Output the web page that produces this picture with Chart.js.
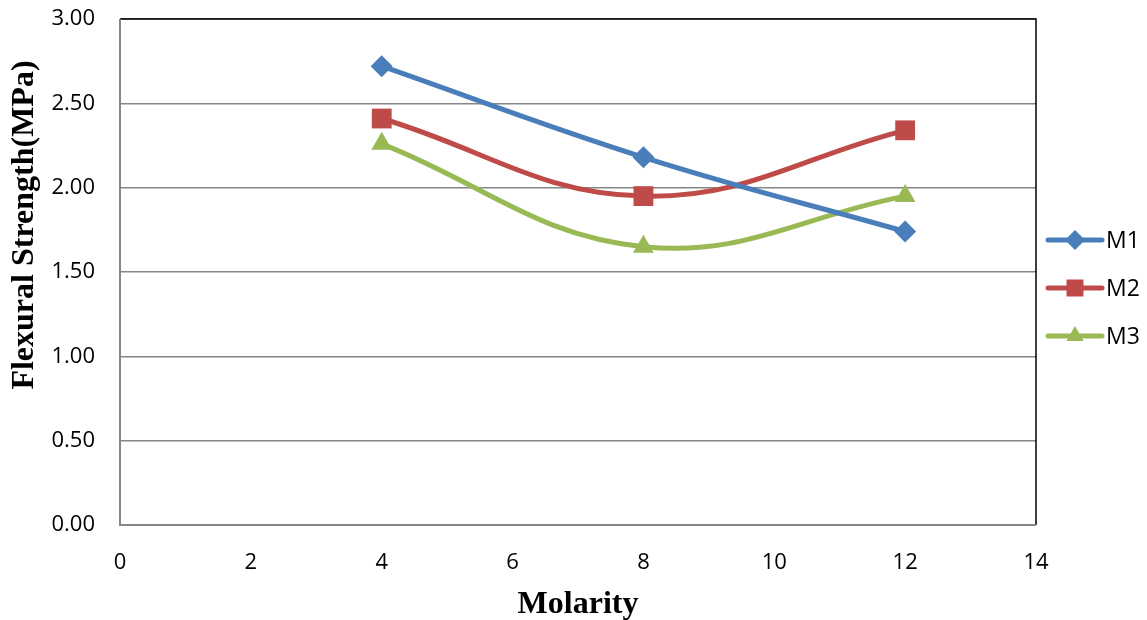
<!DOCTYPE html>
<html>
<head>
<meta charset="utf-8">
<script src="https://cdn.jsdelivr.net/npm/chart.js@4/dist/chart.umd.min.js"></script>
<style>
html,body{margin:0;padding:0;background:#fff;}
#wrap{width:1147px;height:620px;position:relative;}
</style>
</head>
<body>
<div id="wrap"><canvas id="c" width="1147" height="620"></canvas></div>
<script>
const molarity = [4, 8, 12];
const m1 = [2.72, 2.18, 1.74];
const m2 = [2.41, 1.95, 2.34];
const m3 = [2.26, 1.65, 1.95];
const seriesNames = ['M1', 'M2', 'M3'];
const xTicks = [0, 2, 4, 6, 8, 10, 12, 14];
const yTicks = [0, 0.5, 1, 1.5, 2, 2.5, 3];

const colors = ['#4A7EBB', '#BE4B48', '#98B954'];
const styles = ['rectRot', 'rect', 'triangle'];
const radii = [11, 14, 12];
const legendRadii = [10, 12, 10];
const allSeries = [m1, m2, m3];

const datasets = allSeries.map((vals, i) => ({
  label: seriesNames[i],
  data: molarity.map((x, j) => ({x: x, y: vals[j]})),
  borderColor: colors[i],
  backgroundColor: colors[i],
  borderWidth: 5,
  pointStyle: styles[i],
  pointRadius: radii[i],
  pointHoverRadius: radii[i],
  pointBorderWidth: 0,
  showLine: true,
  tension: 0.4,
  cubicInterpolationMode: 'default'
}));

const customPlugin = {
  id: 'custom',
  beforeDatasetsDraw(chart) {
    const ctx = chart.ctx, a = chart.chartArea;
    ctx.save();
    ctx.strokeStyle = '#000';
    ctx.lineWidth = 1.5;
    ctx.beginPath();
    ctx.moveTo(a.left, a.top);
    ctx.lineTo(a.right, a.top);
    ctx.lineTo(a.right, a.bottom);
    ctx.stroke();
    ctx.strokeStyle = '#868686';
    ctx.lineWidth = 2;
    ctx.beginPath();
    ctx.moveTo(a.left, a.top);
    ctx.lineTo(a.left, a.bottom);
    ctx.lineTo(a.right, a.bottom);
    ctx.stroke();
    ctx.restore();
  },
  afterDraw(chart) {
    const ctx = chart.ctx;
    ctx.save();
    ctx.translate(25, 225);
    ctx.rotate(-Math.PI / 2);
    ctx.fillStyle = '#000';
    ctx.font = 'bold 32px "Liberation Serif"';
    ctx.textAlign = 'center';
    ctx.textBaseline = 'middle';
    ctx.fillText('Flexural Strength(MPa)', 0, 0);
    ctx.restore();
    const lx = 1048, ly0 = 240, dy = 48;
    chart.data.datasets.forEach((ds, i) => {
      const y = ly0 + i * dy;
      ctx.save();
      ctx.strokeStyle = ds.borderColor;
      ctx.lineWidth = 5;
      ctx.lineCap = 'round';
      ctx.beginPath();
      ctx.moveTo(lx, y);
      ctx.lineTo(lx + 54, y);
      ctx.stroke();
      ctx.fillStyle = ds.backgroundColor;
      ctx.strokeStyle = ds.backgroundColor;
      ctx.lineWidth = 0.01;
      Chart.helpers.drawPoint(ctx, {pointStyle: ds.pointStyle, radius: legendRadii[i], borderWidth: 0}, lx + 27, y);
      ctx.fillStyle = '#000';
      ctx.font = '23px "Open Sans"';
      ctx.textAlign = 'left';
      ctx.textBaseline = 'middle';
      ctx.fillText(ds.label, lx + 58, y + 1);
      ctx.restore();
    });
  }
};

new Chart(document.getElementById('c'), {
  type: 'scatter',
  data: {datasets: datasets},
  options: {
    responsive: false,
    animation: false,
    layout: {padding: {left: 0, top: 19, right: 111, bottom: 0}},
    plugins: {legend: {display: false}, tooltip: {enabled: false}},
    scales: {
      x: {
        type: 'linear',
        min: 0, max: 14,
        afterBuildTicks: s => { s.ticks = xTicks.map(v => ({value: v})); },
        afterFit: s => { s.height = 95; s.paddingLeft = 0; s.paddingRight = 0; },
        grid: {display: false, drawTicks: false},
        border: {display: false},
        ticks: {color: '#000', font: {family: 'Open Sans', size: 22}, padding: 25, maxRotation: 0},
        title: {display: true, text: 'Molarity', color: '#000', font: {family: 'Liberation Serif', size: 32, weight: 'bold'}, padding: {top: 2, bottom: -4}}
      },
      y: {
        type: 'linear',
        min: 0, max: 3,
        afterBuildTicks: s => { s.ticks = yTicks.map(v => ({value: v})); },
        afterFit: s => { s.width = 120; s.paddingTop = 0; s.paddingBottom = 0; },
        grid: {color: '#868686', lineWidth: 1.5, drawTicks: false},
        border: {display: false},
        ticks: {color: '#000', font: {family: 'Open Sans', size: 22}, padding: 25, callback: v => Number(v).toFixed(2)}
      }
    }
  },
  plugins: [customPlugin]
});
</script>
</body>
</html>
